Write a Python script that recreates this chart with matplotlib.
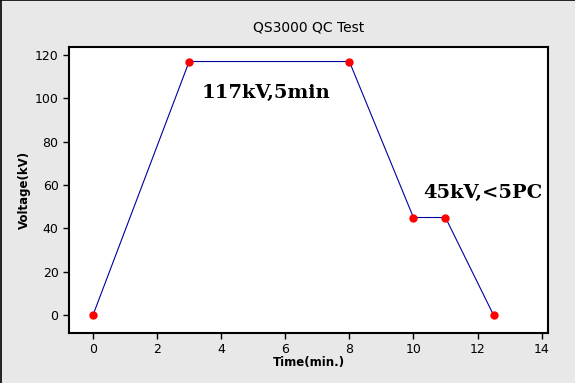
import matplotlib.pyplot as plt
from matplotlib.lines import Line2D

# data
time_min = [0, 3, 8, 10, 11, 12.5]
voltage_kv = [0, 117, 117, 45, 45, 0]
xticks = [0, 2, 4, 6, 8, 10, 12, 14]
yticks = [0, 20, 40, 60, 80, 100, 120]
notes = ["117kV,5min", "45kV,<5PC"]
note_pos = [(3.4, 102.5), (10.3, 56.5)]

bg = "#e8e8e8"
fig = plt.figure(figsize=(5.75, 3.83), dpi=100, facecolor=bg)
ax = fig.add_axes([69 / 575, 1 - 333 / 383, (548 - 69) / 575, (333 - 47) / 383])
ax.set_facecolor("white")

ax.plot(time_min, voltage_kv, color="#0000a0", lw=0.8, zorder=2)
ax.plot(time_min, voltage_kv, "o", color="red", ms=5, mec="red", zorder=3)

ax.set_xlim(-0.75, 14.2)
ax.set_ylim(-8.3, 123.7)
ax.set_xticks(xticks)
ax.set_yticks(yticks)
ax.tick_params(labelsize=9, length=4, width=1, direction="out", colors="black")
for s in ax.spines.values():
    s.set_linewidth(1.5)

ax.set_title("QS3000 QC Test", fontsize=10, pad=11)
ax.set_xlabel("Time(min.)", fontsize=8.5, fontweight="bold", labelpad=0)
ax.set_ylabel("Voltage(kV)", fontsize=8.5, fontweight="bold", labelpad=3)

for txt, (x, y) in zip(notes, note_pos):
    ax.text(x, y, txt, fontsize=14, fontweight="bold", family="DejaVu Serif",
            va="center", ha="left")

# thin frame on top and left edge of the image
fig.add_artist(Line2D([0.001, 0.001], [0, 1], color="black", lw=1.2, transform=fig.transFigure))
fig.add_artist(Line2D([0, 1], [0.999, 0.999], color="black", lw=1.2, transform=fig.transFigure))

fig.savefig("out.png", dpi=100, facecolor=bg)
